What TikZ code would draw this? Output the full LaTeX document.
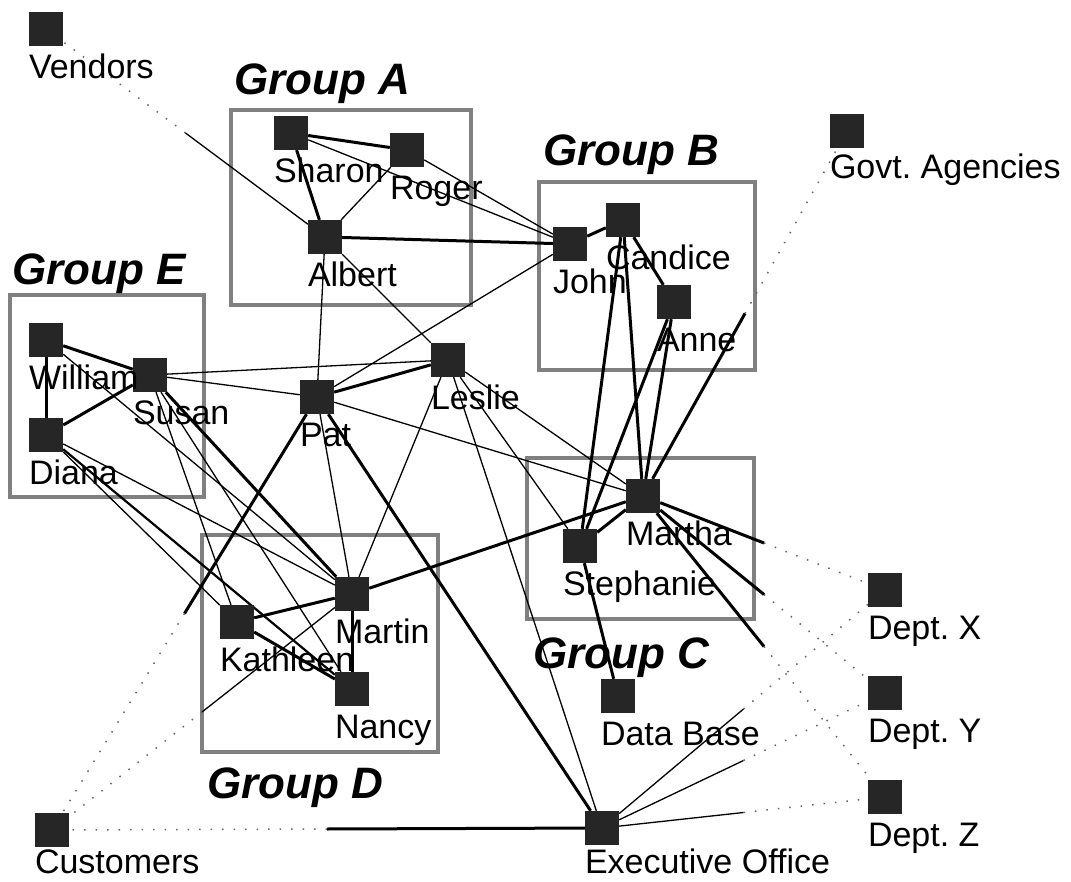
\documentclass[tikz,border=0pt]{standalone}
\usepackage{fontspec}
\setmainfont{Liberation Sans}
\usetikzlibrary{calc}
\pgfdeclarelayer{bg}
\pgfsetlayers{bg,main}
\frenchspacing
\tikzset{
  sq/.style={draw=none, fill=black!85, minimum size=34pt, inner sep=0pt},
  lbl/.style={font=\fontsize{34}{40}\selectfont, inner sep=0pt, anchor=base west},
  grp/.style={font=\fontsize{44}{50}\selectfont\bfseries\itshape, inner sep=0pt, anchor=base west},
  grpbox/.style={draw=black!50, line width=3.5pt},
  lt/.style={line width=1.3pt},
  lk/.style={line width=3pt},
  dots/.style={line width=1.5pt, black!60, dash pattern=on 1.5pt off 10pt},
}
\begin{document}
\begin{tikzpicture}[x=1pt,y=-1pt]
\useasboundingbox (0,0) rectangle (1071,882);
% squares
\node[sq] (vendors) at (46,29) {};
\node[sq] (sharon) at (291,133) {};
\node[sq] (roger) at (407,150) {};
\node[sq] (albert) at (325,237) {};
\node[sq] (john) at (570,244) {};
\node[sq] (candice) at (623,220) {};
\node[sq] (anne) at (674,302) {};
\node[sq] (govt) at (847,131) {};
\node[sq] (william) at (46,340) {};
\node[sq] (susan) at (150,375) {};
\node[sq] (diana) at (46,435) {};
\node[sq] (pat) at (317,397) {};
\node[sq] (leslie) at (448,360) {};
\node[sq] (martha) at (643,496) {};
\node[sq] (stephanie) at (580,546) {};
\node[sq] (martin) at (352,594) {};
\node[sq] (kathleen) at (237,622) {};
\node[sq] (nancy) at (352,689) {};
\node[sq] (database) at (618,696) {};
\node[sq] (deptx) at (885,590) {};
\node[sq] (depty) at (885,693) {};
\node[sq] (deptz) at (885,797) {};
\node[sq] (exec) at (602,828) {};
\node[sq] (customers) at (52,830) {};
% labels
\node[lbl] (vendorsL) at ([yshift=-32pt]vendors.south west) {Vendors};
\node[lbl] (sharonL) at ([yshift=-32pt]sharon.south west) {Sharon};
\node[lbl] (rogerL) at ([yshift=-32pt]roger.south west) {Roger};
\node[lbl] (albertL) at ([yshift=-32pt]albert.south west) {Albert};
\node[lbl] (johnL) at ([yshift=-32pt]john.south west) {John};
\node[lbl] (candiceL) at ([yshift=-32pt]candice.south west) {Candice};
\node[lbl] (anneL) at ([yshift=-32pt]anne.south west) {Anne};
\node[lbl] (govtL) at ([yshift=-30pt]govt.south west) {Govt. Agencies};
\node[lbl] (williamL) at ([yshift=-32pt]william.south west) {William};
\node[lbl] (susanL) at ([yshift=-32pt]susan.south west) {Susan};
\node[lbl] (dianaL) at ([yshift=-32pt]diana.south west) {Diana};
\node[lbl] (patL) at ([yshift=-32pt]pat.south west) {Pat};
\node[lbl] (leslieL) at ([yshift=-32pt]leslie.south west) {Leslie};
\node[lbl] (marthaL) at ([yshift=-32pt]martha.south west) {Martha};
\node[lbl] (stephanieL) at ([yshift=-32pt]stephanie.south west) {Stephanie};
\node[lbl] (martinL) at ([yshift=-32pt]martin.south west) {Martin};
\node[lbl] (kathleenL) at ([yshift=-32pt]kathleen.south west) {Kathleen};
\node[lbl] (nancyL) at ([yshift=-32pt]nancy.south west) {Nancy};
\node[lbl] (databaseL) at ([yshift=-32pt]database.south west) {Data Base};
\node[lbl] (deptxL) at ([yshift=-32pt]deptx.south west) {Dept. X};
\node[lbl] (deptyL) at ([yshift=-32pt]depty.south west) {Dept. Y};
\node[lbl] (deptzL) at ([yshift=-32pt]deptz.south west) {Dept. Z};
\node[lbl] (execL) at ([yshift=-28pt]exec.south west) {Executive Office};
\node[lbl] (customersL) at ([yshift=-26pt]customers.south west) {Customers};
% group titles
\node[grp] (gA) at (234,95) {Group A};
\node[grp] (gB) at (543,166) {Group B};
\node[grp] (gC) at (533,668) {Group C};
\node[grp] (gD) at (207,798) {Group D};
\node[grp] (gE) at (12,285) {Group E};
\begin{pgfonlayer}{bg}
% group boxes
\draw[grpbox] (231,110) rectangle (471,305);
\draw[grpbox] (539,182) rectangle (755,370);
\draw[grpbox] (527,458) rectangle (754,619);
\draw[grpbox] (202,535) rectangle (438,752);
\draw[grpbox] (10,295) rectangle (204,497);
% thick links
\draw[lk] (sharon) -- (roger);
\draw[lk] (sharon) -- (albert);
\draw[lk] (albert) -- (john);
\draw[lk] (john) -- (candice);
\draw[lk] (candice) -- (anne);
\draw[lk] (candice) -- (stephanie);
\draw[lk] (candice) -- (martha);
\draw[lk] (anne) -- (stephanie);
\draw[lk] (anne) -- (martha);
\draw[lk] (william) -- (susan);
\draw[lk] (william) -- (diana);
\draw[lk] (diana) -- (susan);
\draw[lk] (pat) -- (leslie);
\draw[lk] (pat) -- (exec);
\draw[lk] (susan) -- (martin);
\draw[lk] (kathleen) -- (martin);
\draw[lk] (kathleen) -- (nancy);
\draw[lk] (martin) -- (nancy);
\draw[lk] (martin) -- (martha);
\draw[lk] (stephanie) -- (martha);
\draw[lk] (stephanie) -- (database);
\draw[line width=2.2pt] (diana) -- (nancy);
% thin links
\draw[lt] (roger) -- (albert);
\draw[lt] (sharon) -- (john);
\draw[lt] (roger) -- (john);
\draw[lt] (albert) -- (pat);
\draw[lt] (albert) -- (leslie);
\draw[lt] (john) -- (pat);
\draw[lt] (susan) -- (leslie);
\draw[lt] (susan) -- (pat);
\draw[lt] (pat) -- (martha);
\draw[lt] (pat) -- (martin);
\draw[lt] (leslie) -- (martha);
\draw[lt] (leslie) -- (stephanie);
\draw[lt] (leslie) -- (exec);
\draw[lt] (leslie) -- (martin);
\draw[lt] (susan) -- (kathleen);
\draw[lt] (susan) -- (nancy);
\draw[lt] (william) -- (martin);
\draw[lt] (diana) -- (martin);
\draw[lt] (diana) -- (kathleen);
% external links: solid half, dotted half
\draw[lt] (albert) -- ($(albert)!0.5!(vendors)$);
\draw[dots] ($(albert)!0.5!(vendors)$) -- (vendors);
\draw[lk] (martha) -- ($(martha)!0.5!(govt)$);
\draw[dots] ($(martha)!0.5!(govt)$) -- (govt);
\draw[lk] (martha) -- ($(martha)!0.5!(deptx)$);
\draw[dots] ($(martha)!0.5!(deptx)$) -- (deptx);
\draw[lk] (martha) -- ($(martha)!0.5!(depty)$);
\draw[dots] ($(martha)!0.5!(depty)$) -- (depty);
\draw[lk] (martha) -- ($(martha)!0.5!(deptz)$);
\draw[dots] ($(martha)!0.5!(deptz)$) -- (deptz);
\draw[lt] (exec) -- ($(exec)!0.5!(deptx)$);
\draw[dots] ($(exec)!0.5!(deptx)$) -- (deptx);
\draw[lt] (exec) -- ($(exec)!0.5!(depty)$);
\draw[dots] ($(exec)!0.5!(depty)$) -- (depty);
\draw[lt] (exec) -- ($(exec)!0.5!(deptz)$);
\draw[dots] ($(exec)!0.5!(deptz)$) -- (deptz);
\draw[lk] (exec) -- ($(exec)!0.5!(customers)$);
\draw[dots] ($(exec)!0.5!(customers)$) -- (customers);
\draw[lk] (pat) -- ($(pat)!0.5!(customers)$);
\draw[dots] ($(pat)!0.5!(customers)$) -- (customers);
\draw[lt] (martin) -- ($(martin)!0.5!(customers)$);
\draw[dots] ($(martin)!0.5!(customers)$) -- (customers);
\end{pgfonlayer}
\end{tikzpicture}
\end{document}
